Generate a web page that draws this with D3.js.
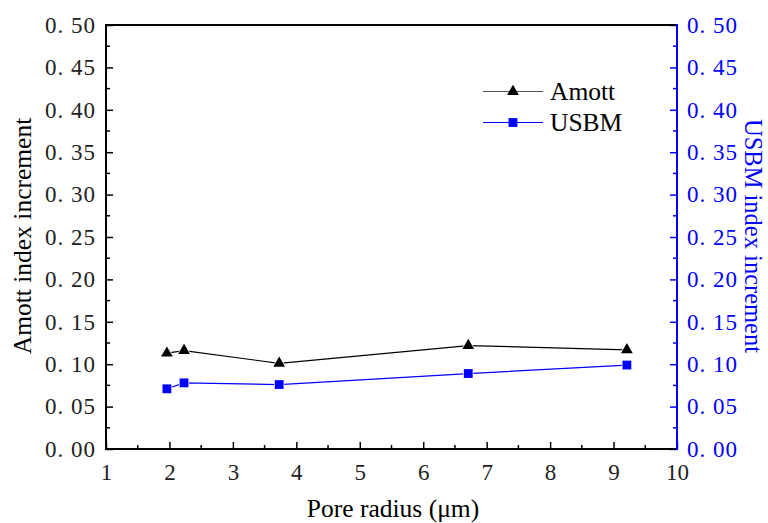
<!DOCTYPE html>
<html><head><meta charset="utf-8">
<script src="https://cdn.jsdelivr.net/npm/d3@7"></script>
<style>body{margin:0;background:#fff}svg{display:block}</style>
</head><body>
<svg id="c" width="768" height="523"></svg>
<script>
const poreRadius = [1.96, 2.23, 3.73, 6.71, 9.21];
const amott = [0.113, 0.116, 0.101, 0.122, 0.117];
const usbm = [0.071, 0.078, 0.076, 0.089, 0.099];
const yTicks = [0, 0.05, 0.10, 0.15, 0.20, 0.25, 0.30, 0.35, 0.40, 0.45, 0.50];
const xTicks = [1, 2, 3, 4, 5, 6, 7, 8, 9, 10];
const seriesNames = ["Amott", "USBM"];

const svg = d3.select("#c");
const L = 106, R = 677, T = 25, B = 449;
const x = d3.scaleLinear().domain([1, 10]).range([L, R]);
const yL = d3.scaleLinear().domain([0, 0.5]).range([B, T]);
const yR = d3.scaleLinear().domain([0, 0.5]).range([B, T]);
const blue = "#0000ff";
const serif = "Liberation Serif, Times New Roman, Times, DejaVu Serif, serif";
const tickFont = serif;
const fmt = v => { const s = v.toFixed(2); return s.replace(".", ". "); };

const yMinor = d3.range(0, 10).map(i => 0.025 + i * 0.05);
const xMinor = d3.range(0, 9).map(i => 1.5 + i);

const gL = svg.append("g").attr("transform", `translate(${L},0)`)
  .call(d3.axisLeft(yL).tickValues(yTicks).tickSize(-7).tickPadding(10).tickFormat(fmt));
gL.select(".domain").remove();
gL.selectAll("line").attr("stroke", "#000").attr("stroke-width", 1.5);
gL.selectAll("text").style("font-family", tickFont).style("font-size", "23px").attr("letter-spacing", "1px").attr("fill", "#222");
gL.selectAll(".minor").data(yMinor).enter().append("line")
  .attr("x1", 0).attr("x2", 4).attr("y1", d => yL(d)).attr("y2", d => yL(d))
  .attr("stroke", "#000").attr("stroke-width", 1.5);

const gR = svg.append("g").attr("transform", `translate(${R},0)`)
  .call(d3.axisRight(yR).tickValues(yTicks).tickSize(-7).tickPadding(10).tickFormat(fmt));
gR.select(".domain").remove();
gR.selectAll("line").attr("stroke", blue).attr("stroke-width", 1.5);
gR.selectAll("text").style("font-family", tickFont).style("font-size", "23px").attr("letter-spacing", "1px").attr("fill", blue);
gR.selectAll(".minor").data(yMinor).enter().append("line")
  .attr("x1", 0).attr("x2", -4).attr("y1", d => yR(d)).attr("y2", d => yR(d))
  .attr("stroke", blue).attr("stroke-width", 1.5);

const gB = svg.append("g").attr("transform", `translate(0,${B})`)
  .call(d3.axisBottom(x).tickValues(xTicks).tickSize(-7).tickPadding(15).tickFormat(d3.format("d")));
gB.select(".domain").remove();
gB.selectAll("line").attr("stroke", "#000").attr("stroke-width", 1.5);
gB.selectAll("text").style("font-family", tickFont).style("font-size", "23px").attr("fill", "#222");
gB.selectAll(".minor").data(xMinor).enter().append("line")
  .attr("y1", 0).attr("y2", -4).attr("x1", d => x(d)).attr("x2", d => x(d))
  .attr("stroke", "#000").attr("stroke-width", 1.5);

svg.append("line").attr("x1", L).attr("x2", R).attr("y1", T).attr("y2", T).attr("stroke", "#000").attr("stroke-width", 2);
svg.append("line").attr("x1", L).attr("x2", R).attr("y1", B).attr("y2", B).attr("stroke", "#000").attr("stroke-width", 2);
svg.append("line").attr("x1", L).attr("x2", L).attr("y1", T - 1).attr("y2", B + 1).attr("stroke", "#000").attr("stroke-width", 2);
svg.append("line").attr("x1", R).attr("x2", R).attr("y1", T - 1).attr("y2", B + 1).attr("stroke", blue).attr("stroke-width", 2);

const lineA = d3.line().x((d, i) => x(poreRadius[i])).y(d => yL(d));
const lineU = d3.line().x((d, i) => x(poreRadius[i])).y(d => yR(d));
svg.append("path").datum(amott).attr("d", lineA).attr("fill", "none").attr("stroke", "#000").attr("stroke-width", 1.2);
svg.append("path").datum(usbm).attr("d", lineU).attr("fill", "none").attr("stroke", blue).attr("stroke-width", 1.2);

const tri = d3.symbol().type(d3.symbolTriangle).size(60);
const sq = d3.symbol().type(d3.symbolSquare).size(78);
svg.selectAll(".ta").data(amott).enter().append("path")
  .attr("d", tri).attr("transform", (d, i) => `translate(${x(poreRadius[i])},${yL(d)})`)
  .attr("fill", "#000").attr("stroke", "#fff").attr("stroke-width", 1.5).attr("paint-order", "stroke");
svg.selectAll(".su").data(usbm).enter().append("path")
  .attr("d", sq).attr("transform", (d, i) => `translate(${x(poreRadius[i])},${yR(d)})`)
  .attr("fill", blue).attr("stroke", "#fff").attr("stroke-width", 1.5).attr("paint-order", "stroke");

const lg = svg.append("g");
const legY = [91.5, 122.5];
const legC = ["#000", blue];
seriesNames.forEach((n, i) => {
  lg.append("line").attr("x1", 483).attr("x2", 543).attr("y1", legY[i]).attr("y2", legY[i])
    .attr("stroke", i === 0 ? "#555" : blue).attr("stroke-width", 1.2);
  lg.append("path").attr("d", i === 0 ? tri : sq).attr("transform", `translate(513,${legY[i]})`).attr("fill", legC[i]);
  lg.append("text").attr("x", 550).attr("y", legY[i] + 8.5).text(n)
    .style("font-family", serif).style("font-size", "25.5px").attr("fill", "#000");
});

svg.append("text").attr("transform", "translate(31,236) rotate(-90)").attr("text-anchor", "middle")
  .style("font-family", serif).style("font-size", "25.5px").attr("fill", "#000").text("Amott index increment");
svg.append("text").attr("transform", "translate(745,236) rotate(90)").attr("text-anchor", "middle")
  .style("font-family", serif).style("font-size", "24.5px").attr("fill", blue).text("USBM index increment");
svg.append("text").attr("x", 393).attr("y", 517).attr("text-anchor", "middle")
  .style("font-family", serif).style("font-size", "25.5px").attr("fill", "#000").text("Pore radius (μm)");
</script>
</body></html>
